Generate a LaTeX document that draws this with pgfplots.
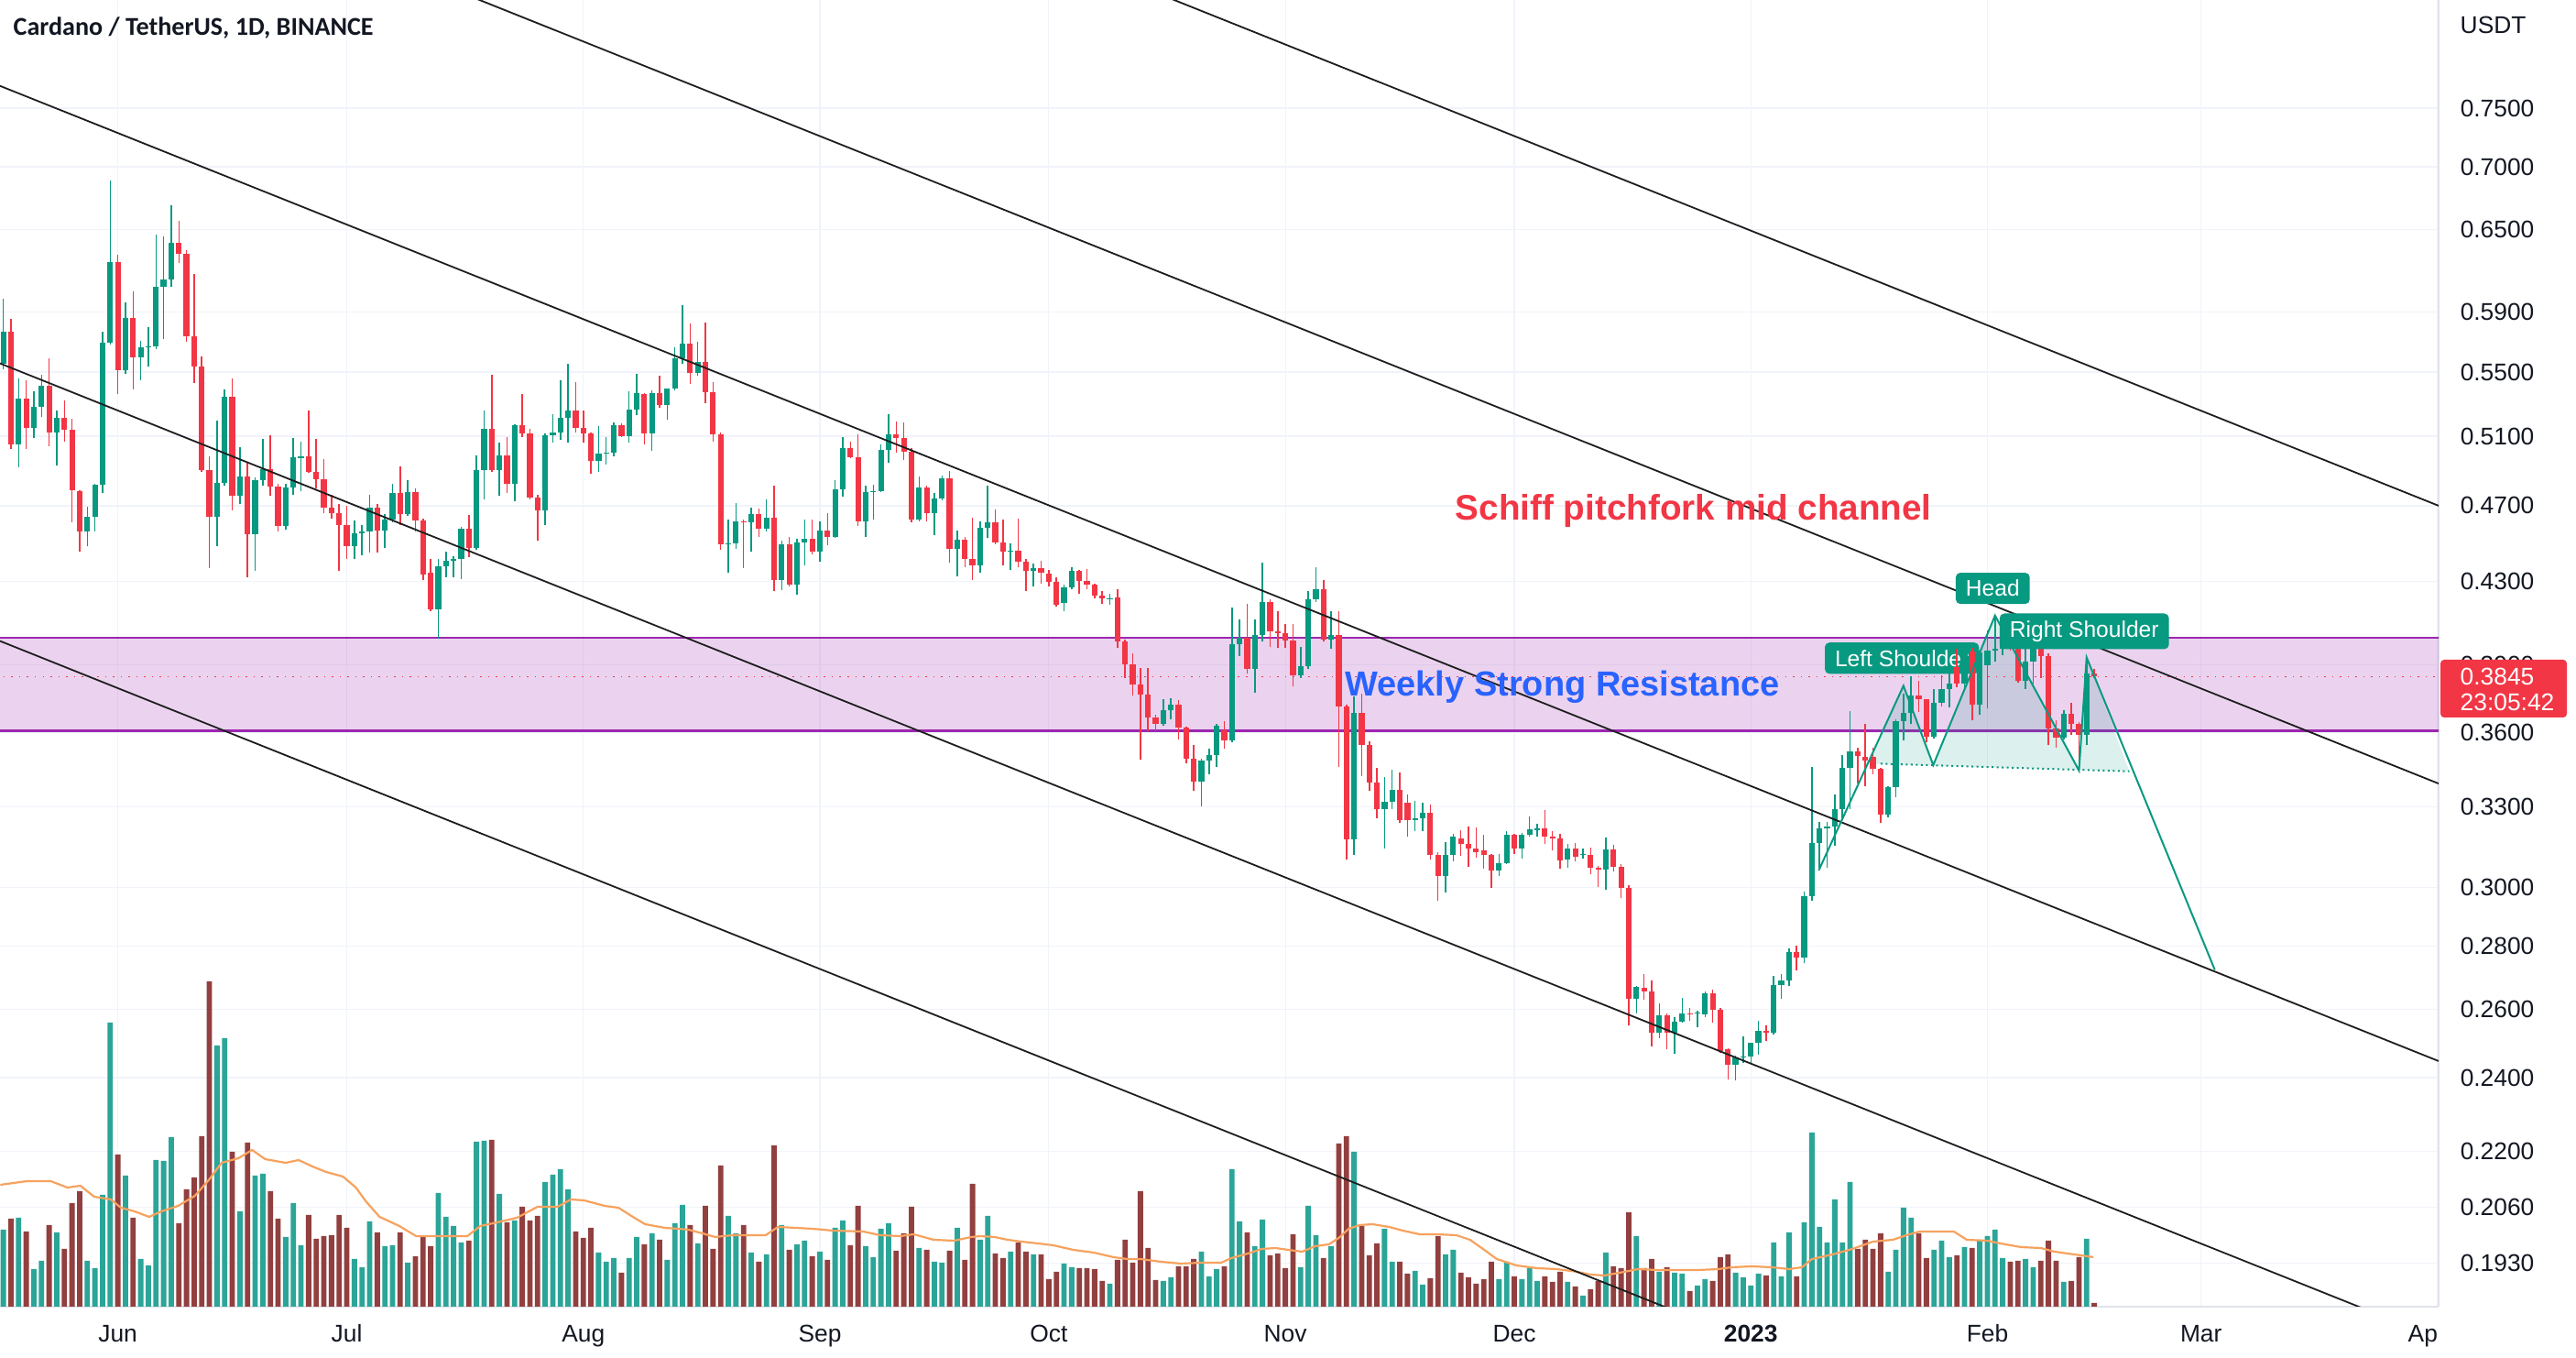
\documentclass[border=0pt]{standalone}
\usepackage{pgfplots}
\pgfplotsset{compat=1.18}
\usepackage{pgfplotstable}
\usepackage{fontspec}
\setmainfont{Liberation Sans}
\newfontfamily\titlefont{Carlito}
\definecolor{upc}{HTML}{089981}
\definecolor{dnc}{HTML}{F23645}
\definecolor{vup}{HTML}{2BA598}
\definecolor{vdn}{HTML}{923F3F}
\definecolor{txt}{HTML}{131722}
\definecolor{gridc}{HTML}{F0F3FA}
\definecolor{sepc}{HTML}{E0E3EB}
\definecolor{bandc}{HTML}{9C27B0}
\definecolor{mac}{HTML}{F7A25E}
\definecolor{blu}{HTML}{2962FF}
\definecolor{pfk}{HTML}{1E1E1E}

% day index d: 0 = 1 Jun 2022; o h l c in USDT; v volume (relative units)
\pgfplotstableread{
d o h l c v
-15 .5556 .5996 .5516 .5769 84
-14 .5769 .5852 .5025 .5052 96
-13 .5052 .5457 .4918 .5331 97
-12 .5331 .5447 .5025 .5152 82
-11 .5152 .5379 .5089 .5280 41
-10 .5280 .5480 .5218 .5414 50
-9 .5414 .5592 .5043 .5125 89
-8 .5125 .5255 .4927 .5212 81
-7 .5212 .5322 .5070 .5138 63
-6 .5138 .5208 .4610 .4788 113
-5 .4782 .4788 .4451 .4560 126
-4 .4560 .4693 .4480 .4640 50
-3 .4640 .4822 .4560 .4818 42
-2 .4817 .5769 .4770 .5693 122
-1 .5693 .6891 .5681 .6259 310
0 .6259 .6311 .5360 .5510 166
1 .5510 .5970 .5486 .5863 143
2 .5863 .6045 .5389 .5596 97
3 .5596 .5708 .5447 .5661 52
4 .5660 .5800 .5536 .5670 45
5 .5670 .6465 .5647 .6081 160
6 .6081 .6449 .5718 .6132 159
7 .6132 .6691 .6081 .6402 185
8 .6402 .6571 .6255 .6318 91
9 .6318 .6350 .5698 .5734 128
10 .5734 .6170 .5428 .5536 141
11 .5536 .5600 .4891 .4900 186
12 .4900 .4979 .4368 .4638 355
13 .4638 .5193 .4483 .4827 285
14 .4827 .5389 .4813 .5341 293
15 .5341 .5461 .4676 .4757 169
16 .4757 .5034 .4710 .4865 104
17 .4865 .4944 .4322 .4544 179
18 .4544 .4857 .4353 .4844 143
19 .4844 .5083 .4813 .4909 145
20 .4909 .5107 .4753 .4808 126
21 .4808 .4822 .4560 .4590 96
22 .4590 .4822 .4568 .4800 76
23 .4800 .5089 .4762 .4974 113
24 .4972 .5070 .4779 .4979 67
25 .4979 .5255 .4883 .4891 100
26 .4891 .5083 .4796 .4848 74
27 .4848 .4967 .4660 .4690 77
28 .4690 .4762 .4627 .4657 78
29 .4660 .4710 .4353 .4593 100
30 .4593 .4701 .4416 .4483 86
31 .4483 .4618 .4413 .4552 52
32 .4552 .4593 .4432 .4558 43
33 .4558 .4762 .4448 .4690 93
34 .4690 .4710 .4448 .4563 81
35 .4563 .4652 .4472 .4624 66
36 .4624 .4822 .4610 .4770 67
37 .4770 .4921 .4593 .4652 81
38 .4652 .4844 .4643 .4775 48
39 .4775 .4796 .4560 .4618 55
40 .4618 .4627 .4306 .4337 76
41 .4344 .4415 .4153 .4161 66
42 .4161 .4415 .4022 .4375 124
43 .4375 .4455 .4321 .4407 98
44 .4405 .4431 .4321 .4415 88
45 .4415 .4585 .4313 .4577 70
46 .4577 .4651 .4423 .4471 72
47 .4471 .4986 .4463 .4899 180
48 .4899 .5254 .4736 .5143 181
49 .5143 .5480 .4890 .4899 182
50 .4899 .5060 .4753 .4984 123
51 .4984 .5097 .4769 .4821 92
52 .4821 .5171 .4727 .5167 94
53 .5167 .5360 .5097 .5115 109
54 .5115 .5143 .4736 .4744 94
55 .4744 .4760 .4512 .4676 99
56 .4676 .5115 .4593 .5106 136
57 .5106 .5236 .5060 .5124 144
58 .5124 .5447 .5078 .5211 150
59 .5211 .5555 .5060 .5254 128
60 .5254 .5437 .5124 .5152 82
61 .5152 .5254 .5060 .5115 75
62 .5115 .5124 .4882 .4956 86
63 .4956 .5161 .4891 .4997 59
64 .4997 .5097 .4935 .5003 49
65 .5003 .5185 .4979 .5167 53
66 .5167 .5180 .5097 .5101 37
67 .5101 .5378 .5060 .5264 53
68 .5264 .5490 .5226 .5363 76
69 .5362 .5368 .5050 .5118 68
70 .5118 .5381 .5014 .5368 80
71 .5368 .5475 .5272 .5291 73
72 .5291 .5397 .5202 .5393 51
73 .5393 .5665 .5380 .5591 91
74 .5591 .5948 .5555 .5686 111
75 .5686 .5821 .5426 .5491 89
76 .5491 .5696 .5475 .5565 69
77 .5565 .5831 .5301 .5374 110
78 .5374 .5436 .5068 .5110 63
79 .5110 .5120 .4461 .4493 154
80 .4490 .4624 .4346 .4496 99
81 .4496 .4717 .4469 .4616 80
82 .4616 .4624 .4368 .4610 89
83 .4608 .4691 .4453 .4655 59
84 .4655 .4683 .4533 .4574 49
85 .4574 .4734 .4558 .4636 57
86 .4636 .4814 .4254 .4306 176
87 .4306 .4509 .4257 .4493 89
88 .4493 .4533 .4273 .4285 62
89 .4285 .4522 .4234 .4501 68
90 .4501 .4624 .4381 .4522 72
91 .4522 .4624 .4440 .4453 55
92 .4453 .4616 .4400 .4566 60
93 .4566 .4657 .4485 .4533 51
94 .4533 .4841 .4528 .4793 86
95 .4793 .5096 .4750 .5028 94
96 .5028 .5068 .4969 .4978 67
97 .4978 .5114 .4591 .4616 110
98 .4616 .4814 .4533 .4776 66
99 .4776 .4819 .4624 .4780 54
100 .4780 .5050 .4776 .5021 85
101 .5021 .5234 .4942 .5114 91
102 .5114 .5191 .5001 .5092 61
103 .5092 .5183 .4960 .5005 80
104 .5005 .5032 .4611 .4624 109
105 .4624 .4863 .4616 .4802 64
106 .4802 .4814 .4616 .4657 62
107 .4657 .4772 .4538 .4738 49
108 .4738 .4871 .4728 .4854 48
109 .4854 .4898 .4397 .4469 61
110 .4469 .4566 .4327 .4517 86
111 .4517 .4533 .4373 .4413 51
112 .4413 .4632 .4306 .4384 134
113 .4384 .4616 .4343 .4578 73
114 .4578 .4814 .4528 .4611 99
115 .4611 .4678 .4493 .4501 58
116 .4501 .4624 .4384 .4453 53
117 .4452 .4498 .4360 .4456 60
118 .4456 .4629 .4371 .4402 70
119 .4402 .4415 .4251 .4355 60
120 .4355 .4391 .4274 .4368 57
121 .4368 .4407 .4290 .4344 57
122 .4340 .4360 .4274 .4297 30
123 .4297 .4321 .4176 .4183 38
124 .4191 .4282 .4153 .4271 47
125 .4271 .4371 .4259 .4352 43
126 .4352 .4360 .4236 .4302 42
127 .4302 .4365 .4259 .4282 42
128 .4282 .4290 .4214 .4229 41
129 .4229 .4251 .4187 .4214 28
130 .4212 .4236 .4183 .4216 25
131 .4221 .4262 .3978 .4007 51
132 .4007 .4014 .3841 .3901 73
133 .3901 .3950 .3759 .3808 48
134 .3808 .3883 .3486 .3763 126
135 .3763 .3883 .3604 .3663 64
136 .3663 .3676 .3604 .3637 29
137 .3637 .3743 .3630 .3696 28
138 .3696 .3750 .3656 .3719 32
139 .3719 .3740 .3570 .3621 44
140 .3621 .3624 .3471 .3490 44
141 .3490 .3547 .3363 .3398 52
142 .3398 .3490 .3301 .3483 60
143 .3483 .3534 .3428 .3508 33
144 .3508 .3637 .3459 .3630 41
145 .3611 .3648 .3532 .3566 44
146 .3566 .4168 .3560 .3993 150
147 .3993 .4112 .3939 .4024 93
148 .4024 .4186 .3859 .3880 81
149 .3880 .4112 .3773 .4038 66
150 .4038 .4396 .4007 .4199 95
151 .4199 .4211 .3982 .4054 56
152 .4054 .4153 .3978 .4048 58
153 .4048 .4092 .3978 .4010 42
154 .4010 .4092 .3800 .3849 79
155 .3849 .3982 .3841 .3891 43
156 .3891 .4251 .3880 .4211 110
157 .4211 .4371 .4199 .4259 78
158 .4259 .4305 .4005 .4014 53
159 .4014 .4153 .3971 .4036 66
160 .4036 .4150 .3459 .3714 178
161 .3714 .3720 .3101 .3174 186
162 .3174 .3756 .3117 .3683 169
163 .3683 .3770 .3422 .3549 88
164 .3549 .3562 .3363 .3396 56
165 .3396 .3453 .3255 .3292 69
166 .3292 .3416 .3142 .3319 85
167 .3319 .3447 .3290 .3367 49
168 .3367 .3437 .3237 .3249 49
169 .3315 .3347 .3185 .3249 36
170 .3250 .3323 .3206 .3255 39
171 .3255 .3315 .3208 .3276 24
172 .3276 .3307 .3100 .3117 31
173 .3117 .3128 .2954 .3042 77
174 .3042 .3165 .2984 .3119 57
175 .3119 .3196 .3095 .3185 62
176 .3180 .3210 .3115 .3160 37
177 .3160 .3225 .3075 .3142 32
178 .3142 .3222 .3108 .3128 25
179 .3134 .3191 .3068 .3119 30
180 .3119 .3122 .2999 .3062 49
181 .3062 .3122 .3040 .3089 30
182 .3089 .3208 .3084 .3191 49
183 .3191 .3196 .3122 .3140 33
184 .3140 .3199 .3104 .3191 30
185 .3191 .3261 .3185 .3213 42
186 .3210 .3233 .3187 .3216 28
187 .3216 .3288 .3160 .3187 33
188 .3187 .3208 .3134 .3180 27
189 .3180 .3196 .3068 .3097 38
190 .3100 .3157 .3071 .3140 27
191 .3140 .3163 .3095 .3111 22
192 .3117 .3142 .3106 .3121 12
193 .3119 .3145 .3049 .3073 19
194 .3073 .3078 .3002 .3064 28
195 .3064 .3182 .2992 .3137 59
196 .3137 .3154 .3057 .3075 44
197 .3075 .3084 .2963 .2999 42
198 .2999 .3008 .2551 .2632 103
199 .2632 .2672 .2589 .2670 77
200 .2667 .2711 .2630 .2657 42
201 .2655 .2689 .2490 .2529 52
202 .2529 .2620 .2513 .2583 38
203 .2583 .2588 .2481 .2529 43
204 .2529 .2578 .2468 .2562 37
205 .2562 .2636 .2560 .2589 36
206 .2589 .2606 .2567 .2585 17
207 .2587 .2596 .2546 .2590 23
208 .2585 .2657 .2578 .2651 30
209 .2651 .2662 .2560 .2598 28
210 .2598 .2606 .2472 .2477 54
211 .2481 .2485 .2396 .2437 57
212 .2437 .2463 .2392 .2457 37
213 .2457 .2519 .2442 .2460 32
214 .2460 .2501 .2442 .2499 23
215 .2499 .2565 .2465 .2535 36
216 .2535 .2553 .2506 .2529 34
217 .2529 .2706 .2524 .2677 70
218 .2677 .2711 .2634 .2689 33
219 .2689 .2795 .2672 .2782 81
220 .2782 .2802 .2722 .2765 33
221 .2765 .2988 .2745 .2970 92
222 .2970 .3458 .2954 .3163 190
223 .3163 .3242 .3073 .3216 87
224 .3216 .3242 .3073 .3224 70
225 .3224 .3349 .3151 .3290 117
226 .3290 .3507 .3255 .3453 70
227 .3453 .3692 .3290 .3522 136
228 .3522 .3538 .3392 .3503 63
229 .3499 .3636 .3380 .3484 73
230 .3499 .3535 .3428 .3449 63
231 .3449 .3453 .3238 .3269 80
232 .3269 .3380 .3260 .3376 38
233 .3376 .3658 .3338 .3649 62
234 .3649 .3768 .3567 .3684 108
235 .3684 .3846 .3636 .3760 97
236 .3760 .3828 .3690 .3744 80
237 .3744 .3746 .3558 .3583 53
238 .3583 .3791 .3575 .3730 62
239 .3730 .3852 .3714 .3791 72
240 .3791 .3866 .3710 .3814 54
241 .3888 .3971 .3798 .3814 56
242 .3814 .3990 .3790 .3950 65
243 .3960 .3979 .3651 .3719 64
244 .3719 .3963 .3677 .3955 73
245 .3897 .4059 .3703 .3963 77
246 .3963 .4132 .3915 .3975 84
247 .3975 .4030 .3942 .4022 53
248 .4030 .4045 .3963 .3982 49
249 .3982 .4013 .3818 .3825 50
250 .3825 .4022 .3791 .3915 52
251 .3915 .4022 .3814 .4005 43
252 .3990 .4025 .3839 .3939 50
253 .3939 .3950 .3547 .3618 72
254 .3618 .3651 .3535 .3580 50
255 .3580 .3698 .3570 .3680 27
256 .3680 .3730 .3592 .3638 28
257 .3638 .3645 .3441 .3592 54
258 .3592 .3936 .3547 .3860 74
259 .3860 .3880 .3840 .3845 4
}\ada

% 20-day volume moving average (same units as v)
\pgfplotstableread{
d m
-15.4 133
-11.9 137
-8.8 137
-6.6 130
-4.9 132
-3.1 120
-0.9 117
0.4 108
2.2 104
4.1 98
5.7 104
7.9 110
10.1 121
11.9 138
13.6 157
15.8 162
17.6 171
19.3 161
22.0 157
23.7 160
25.5 153
27.3 147
29.5 142
31.2 130
32.5 115
34.3 98
36.9 88
39.1 77
40.9 77
44.0 77
45.8 77
47.5 88
49.7 92
52.3 97
55.0 109
57.6 109
59.4 117
61.1 116
63.8 110
65.6 108
67.3 99
69.1 90
71.7 86
73.5 85
74.8 84
76.6 80
78.3 76
80.5 78
83.2 78
84.9 78
86.5 87
88.9 86
91.1 85
93.7 83
97.7 82
99.9 78
102.5 77
104.3 79
106.9 73
109.6 72
111.8 76
113.1 77
114.9 76
116.6 73
118.4 71
120.6 69
122.6 67
125.2 62
127.9 59
130.5 54
132.3 52
134.0 52
136.7 49
139.3 47
142.0 48
144.6 48
145.9 53
148.1 58
149.9 63
151.7 64
153.4 62
155.2 60
156.9 66
158.7 68
160.0 75
161.3 85
162.7 89
164.4 90
166.6 87
168.4 83
170.6 79
172.8 79
175.4 78
177.2 73
178.9 63
180.7 52
183.3 45
186.0 42
188.6 41
191.3 38
193.0 35
194.8 34
197.4 38
199.2 41
201.8 40
204.5 40
207.1 40
209.7 41
211.5 43
214.1 44
216.8 43
219.0 41
220.7 43
222.0 52
224.7 57
227.3 63
230.0 71
232.6 73
234.4 78
236.1 82
237.9 82
240.6 82
242.3 73
245.0 72
246.7 69
249.4 65
252.0 64
253.8 60
256.4 57
258.9 54
}\vma

\pgfplotsset{pane/.style={at={(0mm,5.6mm)}, anchor=south west, scale only axis,
  width=266.2mm, height=142.6mm, xmin=-15.44, xmax=304.13},
  candle/.style={only marks, mark=none, mark size=0pt, mark options={draw=none, fill=none}, forget plot}}

\begin{document}
\begin{tikzpicture}
\useasboundingbox (0mm,0mm) rectangle (281.2mm,148.2mm);
\fill[white] (0mm,0mm) rectangle (281.2mm,148.2mm);

% ---------- grid and scales ----------
\begin{axis}[pane, ymin=-1.696406, ymax=-0.160595,
  axis line style={draw=none}, tick style={draw=none},
  xtick={0,30,61,92,122,153,183,214,245,273,304},
  xticklabels={Jun,Jul,Aug,Sep,Oct,Nov,Dec,\textbf{2023},Feb,Mar,{\llap{Ap}}},
  ytick={-0.287682,-0.356675,-0.430783,-0.527633,-0.597837,-0.673345,-0.755023,-0.843970,-0.941609,-1.021651,-1.108663,-1.203973,-1.272966,-1.347074,-1.427116,-1.514128,-1.579879,-1.645065},
  yticklabels={0.7500,0.7000,0.6500,0.5900,0.5500,0.5100,0.4700,0.4300,0.3900,0.3600,0.3300,0.3000,0.2800,0.2600,0.2400,0.2200,0.2060,0.1930},
  yticklabel pos=right,
  xmajorgrids, ymajorgrids, grid style={gridc, line width=0.12mm},
  tick label style={font=\fontsize{7.5}{9}\selectfont, text=txt},
  yticklabel style={anchor=west, inner sep=0pt, xshift=2.3mm},
  xticklabel style={anchor=base, yshift=-3.9mm},
]
\end{axis}
\draw[sepc, line width=0.12mm] (266.2mm,5.6mm) -- (266.2mm,148.2mm);
\draw[sepc, line width=0.12mm] (0mm,5.6mm) -- (266.2mm,5.6mm);

% ---------- volume ----------
\begin{axis}[pane, ymin=0, ymax=1426, axis lines=none]
\addplot[ybar, bar width=0.7, bar shift=0pt, fill=vup, draw=none,
  restrict expr to domain={\thisrow{c}-\thisrow{o}}{0:10}] table[x=d, y=v] {\ada};
\addplot[ybar, bar width=0.7, bar shift=0pt, fill=vdn, draw=none,
  restrict expr to domain={\thisrow{c}-\thisrow{o}}{-10:-0.000001}] table[x=d, y=v] {\ada};
\addplot[mac, line width=0.22mm] table[x=d, y=m] {\vma};
\end{axis}

% ---------- price ----------
\begin{axis}[pane, ymin=-1.696406, ymax=-0.160595, axis lines=none]
% weekly resistance band
\addplot[draw=none, fill=bandc, fill opacity=0.2, forget plot]
  table[x=d, y expr={ln(\thisrow{p})}, row sep=\\] {d p\\ -16 0.3607\\ 305 0.3607\\ 305 0.4024\\ -16 0.4024\\};
\addplot[bandc, line width=0.25mm, forget plot]
  table[x=d, y expr={ln(\thisrow{p})}, row sep=\\] {d p\\ -16 0.4024\\ 305 0.4024\\};
\addplot[bandc, line width=0.25mm, forget plot]
  table[x=d, y expr={ln(\thisrow{p})}, row sep=\\] {d p\\ -16 0.3607\\ 305 0.3607\\};
% head and shoulders shading
\addplot[draw=none, fill=upc, fill opacity=0.14, forget plot]
  table[x=d, y expr={ln(\thisrow{p})}, row sep=\\] {d p\\ 229.5 0.3471\\ 234.0 0.3804\\ 237.9 0.3465\\ 246.0 0.4131\\ 257.0 0.3443\\ 258.0 0.3933\\ 263.6 0.3440\\};
% last price line
\addplot[dnc, line width=0.15mm, dotted, forget plot]
  table[x=d, y expr={ln(\thisrow{p})}, row sep=\\] {d p\\ -16 0.3845\\ 305 0.3845\\};
\node[fill=upc, text=white, rounded corners=0.5mm, font=\fontsize{7}{8.4}\selectfont,
  inner xsep=1.1mm, inner ysep=0.8mm] at (axis cs:233.8,-0.934201) {Left Shoulder};

% candles: wicks
\addplot[candle,
  restrict expr to domain={\thisrow{c}-\thisrow{o}}{0:10},
  error bars/.cd, y dir=plus, y explicit, error mark=none,
  error bar style={upc, line width=0.15mm}]
  table[x=d, y expr={ln(\thisrow{l})}, y error plus expr={ln(\thisrow{h})-ln(\thisrow{l})}] {\ada};
\addplot[candle,
  restrict expr to domain={\thisrow{c}-\thisrow{o}}{-10:-0.000001},
  error bars/.cd, y dir=plus, y explicit, error mark=none,
  error bar style={dnc, line width=0.15mm}]
  table[x=d, y expr={ln(\thisrow{l})}, y error plus expr={ln(\thisrow{h})-ln(\thisrow{l})}] {\ada};
% candles: bodies
\addplot[candle,
  restrict expr to domain={\thisrow{c}-\thisrow{o}}{0:10},
  error bars/.cd, y dir=plus, y explicit, error mark=none,
  error bar style={upc, line width=0.62mm}]
  table[x=d, y expr={ln(\thisrow{o})}, y error plus expr={ln(\thisrow{c})-ln(\thisrow{o})}] {\ada};
\addplot[candle,
  restrict expr to domain={\thisrow{c}-\thisrow{o}}{-10:-0.000001},
  error bars/.cd, y dir=plus, y explicit, error mark=none,
  error bar style={dnc, line width=0.62mm}]
  table[x=d, y expr={ln(\thisrow{c})}, y error plus expr={ln(\thisrow{o})-ln(\thisrow{c})}] {\ada};

% Schiff pitchfork and parallels
\addplot[pfk, line width=0.18mm, forget plot] table[x=d, y expr={ln(\thisrow{p})}, row sep=\\] {d p\\ -15.44 1.479\\ 304.13 0.4700\\};
\addplot[pfk, line width=0.18mm, forget plot] table[x=d, y expr={ln(\thisrow{p})}, row sep=\\] {d p\\ -15.44 1.067\\ 304.13 0.3391\\};
\addplot[pfk, line width=0.18mm, forget plot] table[x=d, y expr={ln(\thisrow{p})}, row sep=\\] {d p\\ -15.44 0.7700\\ 304.13 0.2447\\};
\addplot[pfk, line width=0.18mm, forget plot] table[x=d, y expr={ln(\thisrow{p})}, row sep=\\] {d p\\ -15.44 0.5556\\ 304.13 0.1766\\};
\addplot[pfk, line width=0.18mm, forget plot] table[x=d, y expr={ln(\thisrow{p})}, row sep=\\] {d p\\ -15.44 0.4009\\ 304.13 0.1274\\};

% head and shoulders pattern
\addplot[upc, line width=0.2mm, forget plot]
  table[x=d, y expr={ln(\thisrow{p})}, row sep=\\] {d p\\ 222.9 0.3062\\ 234.0 0.3804\\ 237.9 0.3465\\ 246.0 0.4131\\ 257.0 0.3443\\ 258.0 0.3933\\ 274.8 0.2724\\};
\addplot[upc, line width=0.2mm, densely dotted, forget plot]
  table[x=d, y expr={ln(\thisrow{p})}, row sep=\\] {d p\\ 231.0 0.3471\\ 263.6 0.3440\\};

\node[fill=upc, text=white, rounded corners=0.5mm, font=\fontsize{7}{8.4}\selectfont,
  inner xsep=1.1mm, inner ysep=0.8mm] at (axis cs:245.7,-0.852144) {Head};
\node[fill=upc, text=white, rounded corners=0.5mm, font=\fontsize{7}{8.4}\selectfont,
  inner xsep=1.1mm, inner ysep=0.8mm] at (axis cs:257.7,-0.902635) {Right Shoulder};

\node[text=dnc, font=\bfseries\fontsize{11}{13}\selectfont] at (axis cs:206.5,-0.761426) {Schiff pitchfork mid channel};
\node[text=blu, font=\bfseries\fontsize{10.8}{13}\selectfont] at (axis cs:189.3,-0.968374) {Weekly Strong Resistance};
\end{axis}

% ---------- legend text, scale title, last price tag ----------
\node[anchor=west, inner sep=0pt, text=txt, font=\titlefont\bfseries\fontsize{8}{10}\selectfont] at (1.4mm,145.15mm) {Cardano / TetherUS, 1D, BINANCE};
\node[anchor=west, inner sep=0pt, text=txt, font=\fontsize{7.5}{9}\selectfont] at (268.5mm,145.5mm) {USDT};
\fill[dnc, rounded corners=0.4mm] (266.4mm,69.9mm) rectangle (280.2mm,76.2mm);
\node[anchor=west, inner sep=0pt, text=white, font=\fontsize{7.5}{9}\selectfont] at (268.5mm,74.4mm) {0.3845};
\node[anchor=west, inner sep=0pt, text=white, font=\fontsize{7.5}{9}\selectfont] at (268.5mm,71.6mm) {23:05:42};
\end{tikzpicture}
\end{document}
